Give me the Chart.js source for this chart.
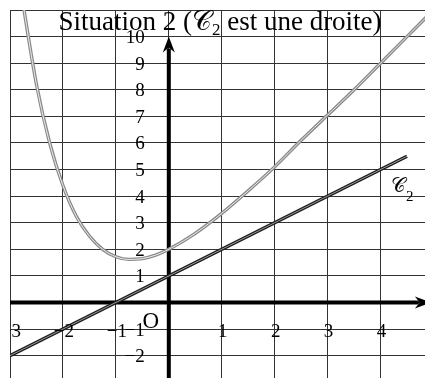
<!DOCTYPE html>
<html>
<head>
<meta charset="utf-8">
<script src="https://cdn.jsdelivr.net/npm/chart.js@4/dist/chart.umd.min.js"></script>
<style>
  html, body { margin: 0; padding: 0; background: #fff; }
  canvas { display: block; }
</style>
</head>
<body>
<canvas id="chart" width="425" height="378"></canvas>
<script>
// ─── Data ─────────────────────────────────────────────────────────────────────
const lineX = [-3, 4.5];
const lineY = [-2, 5.5];
const curveX = [-2.8, -2.5, -2.25, -2, -1.75, -1.5, -1.25, -1, -0.75, -0.5, -0.25, 0, 0.5, 1, 1.5, 2, 2.5, 3, 3.5, 4, 4.5, 4.9];
const curveY = [11.8, 8.2, 6.0, 4.4, 3.25, 2.5, 2.0, 1.72, 1.62, 1.65, 1.78, 2.0, 2.6, 3.35, 4.2, 5.1, 6.1, 7.05, 8.0, 9.0, 10.0, 10.8];
const xTickLabels = [-3, -2, -1, 1, 2, 3, 4];
const yTickLabels = [10, 9, 8, 7, 6, 5, 4, 3, 2, 1, -1, -2];
const titleParts = ['Situation 2 (', '𝒞', '2', ' est une droite)'];
const curveName = ['𝒞', '2'];

const SERIF = '"Liberation Serif", "DejaVu Serif", serif';
const pts = (xs, ys) => xs.map((x, i) => ({ x, y: ys[i] }));
const fmt = (v) => (v < 0 ? '\u2212' + Math.abs(v) : String(v));

// ─── Axes with arrow heads ────────────────────────────────────────────────────
function arrow(ctx, tx, ty, dx, dy) {
  const L = 16, W = 6, B = 11;
  const px = -dy, py = dx;
  ctx.beginPath();
  ctx.moveTo(tx, ty);
  ctx.lineTo(tx - dx * L + px * W, ty - dy * L + py * W);
  ctx.lineTo(tx - dx * B, ty - dy * B);
  ctx.lineTo(tx - dx * L - px * W, ty - dy * L - py * W);
  ctx.closePath();
  ctx.fill();
}

const axesPlugin = {
  id: 'axes',
  beforeDatasetsDraw(chart) {
    const { ctx, chartArea: a, scales: { x, y } } = chart;
    const x0 = x.getPixelForValue(0), y0 = y.getPixelForValue(0);
    ctx.save();
    ctx.fillStyle = '#000';
    const xTip = x.getPixelForValue(4.95);
    ctx.fillRect(a.left, y0 - 2, xTip - 12 - a.left, 4);
    arrow(ctx, xTip, y0, 1, 0);
    const yTip = y.getPixelForValue(10);
    ctx.fillRect(x0 - 2, yTip + 12, 4, a.bottom - yTip - 12);
    arrow(ctx, x0, yTip, 0, -1);
    ctx.restore();
  },
};

// ─── Tick labels, origin, title, curve name ──────────────────────────────────
const labelsPlugin = {
  id: 'labels',
  afterDraw(chart) {
    const { ctx, chartArea: a, scales: { x, y } } = chart;
    const x0 = x.getPixelForValue(0), y0 = y.getPixelForValue(0);
    ctx.save();
    ctx.beginPath();
    ctx.rect(a.left, a.top, a.right - a.left, a.bottom - a.top);
    ctx.clip();
    ctx.fillStyle = '#000';

    ctx.font = '19px ' + SERIF;
    ctx.textAlign = 'center';
    ctx.textBaseline = 'middle';
    xTickLabels.forEach((v) => ctx.fillText(fmt(v), x.getPixelForValue(v) + 1, y0 + 30));

    ctx.textAlign = 'right';
    yTickLabels.forEach((v) => ctx.fillText(fmt(v), x0 - 24, y.getPixelForValue(v) + 1.5));

    ctx.textAlign = 'center';
    ctx.font = '23px ' + SERIF;
    ctx.fillText('O', x0 - 18, y0 + 19);

    // title, drawn piece by piece for the subscript
    ctx.textAlign = 'left';
    ctx.textBaseline = 'alphabetic';
    const big = '27px ' + SERIF, small = '17px ' + SERIF;
    const fonts = [big, big, small, big];
    const shifts = [0, 0, 5, 0];
    const widths = titleParts.map((s, i) => { ctx.font = fonts[i]; return ctx.measureText(s).width; });
    let tx = 220 - widths.reduce((s, w) => s + w, 0) / 2;
    titleParts.forEach((s, i) => {
      ctx.font = fonts[i];
      ctx.fillText(s, tx, 30 + shifts[i]);
      tx += widths[i];
    });

    // curve name C2
    ctx.font = '20px ' + SERIF;
    ctx.fillText(curveName[0], 391, 192);
    const cw = ctx.measureText(curveName[0]).width;
    ctx.font = '15px ' + SERIF;
    ctx.fillText(curveName[1], 391 + cw, 201);
    ctx.restore();
  },
};

// ─── Chart ────────────────────────────────────────────────────────────────────
const gridColor = (c) => (c.tick && Number.isInteger(c.tick.value) ? '#333' : 'rgba(0,0,0,0)');

new Chart(document.getElementById('chart'), {
  type: 'scatter',
  data: {
    datasets: [
      { data: pts(curveX, curveY), showLine: true, borderColor: '#ededed', borderWidth: 1, pointRadius: 0, cubicInterpolationMode: 'monotone', order: 0 },
      { data: pts(curveX, curveY), showLine: true, borderColor: '#8a8a8a', borderWidth: 3.4, pointRadius: 0, cubicInterpolationMode: 'monotone', order: 1 },
      { data: pts(lineX, lineY), showLine: true, borderColor: '#9a9a9a', borderWidth: 1, pointRadius: 0, order: 2 },
      { data: pts(lineX, lineY), showLine: true, borderColor: '#1c1c1c', borderWidth: 3.4, pointRadius: 0, order: 3 },
    ],
  },
  options: {
    responsive: false,
    animation: false,
    events: [],
    layout: { padding: { left: 10, top: 10, right: 0, bottom: 0 } },
    plugins: { legend: { display: false }, tooltip: { enabled: false } },
    scales: {
      x: {
        type: 'linear', min: -3, max: 4.84,
        ticks: { stepSize: 1, display: false },
        grid: { color: gridColor, lineWidth: 1, drawTicks: false },
        border: { display: false },
      },
      y: {
        type: 'linear', min: -2.84, max: 11,
        ticks: { stepSize: 1, display: false },
        grid: { color: gridColor, lineWidth: 1, drawTicks: false },
        border: { display: false },
      },
    },
  },
  plugins: [axesPlugin, labelsPlugin],
});
</script>
</body>
</html>
